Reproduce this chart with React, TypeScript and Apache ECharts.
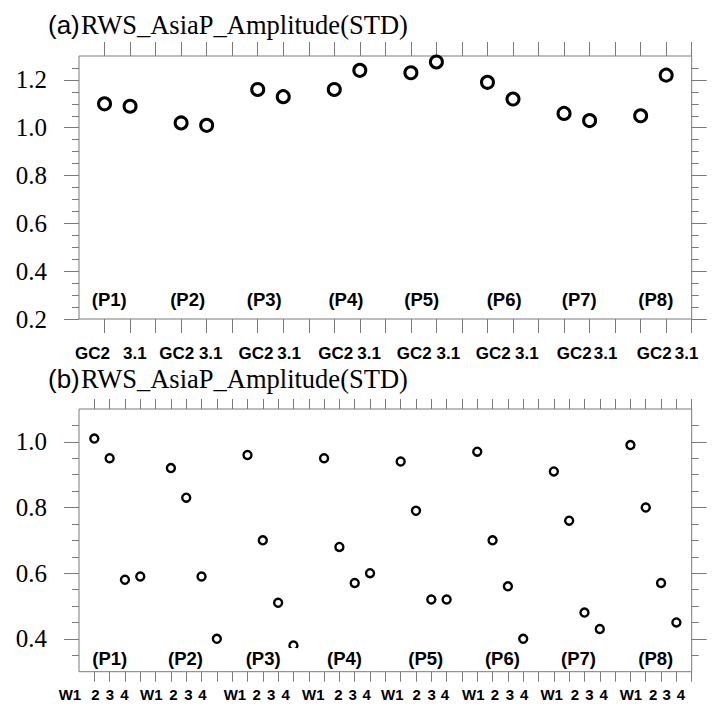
import React, { useEffect, useRef } from "react";
import * as echarts from "echarts";

// ---- data ----
const periods = ["P1", "P2", "P3", "P4", "P5", "P6", "P7", "P8"];
const modelLabels = ["GC2", "3.1"];
const gc2Amp = [1.10, 1.02, 1.16, 1.16, 1.23, 1.19, 1.06, 1.05];
const v31Amp = [1.09, 1.01, 1.13, 1.24, 1.275, 1.12, 1.03, 1.22];

const weekLabels = ["W1", "2", "3", "4"];
const w1Amp = [1.01, 0.92, 0.96, 0.95, 0.94, 0.97, 0.91, 0.99];
const w2Amp = [0.95, 0.83, 0.70, 0.68, 0.79, 0.70, 0.76, 0.80];
const w3Amp = [0.58, 0.59, 0.51, 0.57, 0.52, 0.56, 0.48, 0.57];
const w4Amp = [0.59, 0.40, 0.38, 0.60, 0.52, 0.40, 0.43, 0.45];

const panelTitles = ["(a)", "(b)"];
const titleText = "RWS_AsiaP_Amplitude(STD)";

// tick labels (axis units)
const topTickLabelAt = [
  [0.53, 2.19], [3.83, 5.16], [6.93, 8.23], [10.06, 11.36],
  [13.13, 14.47], [16.23, 17.54], [19.40, 20.63], [22.53, 23.80],
];
const bottomTickLabelAt = [
  [-0.59, 1.08, 2.02, 2.97], [4.72, 6.16, 7.14, 8.05],
  [10.18, 11.60, 12.54, 13.49], [15.30, 16.93, 17.87, 18.78],
  [20.45, 22.05, 23.03, 23.89], [25.74, 27.16, 28.14, 29.07],
  [30.86, 32.38, 33.32, 34.26], [36.03, 37.49, 38.37, 39.30],
];
const topPeriodLabelAt = [0.50, 3.57, 6.57, 9.77, 12.74, 15.97, 18.91, 21.91];
const bottomPeriodLabelAt = [0.87, 5.81, 10.88, 16.19, 21.50, 26.50, 31.47, 36.51];

const topY = { min: 0.2, max: 1.3, major: [0.2, 0.4, 0.6, 0.8, 1.0, 1.2], periodY: 0.283 };
const botY = { min: 0.3, max: 1.1, major: [0.4, 0.6, 0.8, 1.0], periodY: 0.339 };

const GRAY = "#7a7a7a";

function range(a: number, b: number, step: number) {
  const out: number[] = [];
  for (let v = a; v <= b + 1e-9; v += step) out.push(Math.round(v * 1000) / 1000);
  return out;
}

export default function App() {
  const ref = useRef<HTMLDivElement>(null);
  useEffect(() => {
    if (!ref.current) return;
    const chart = echarts.init(ref.current, null, { renderer: "svg" });

    const grids = [
      { left: 79, top: 56, width: 612.7, height: 263, show: true, borderColor: GRAY, borderWidth: 1,
        outerBoundsMode: "none", containLabel: false },
      { left: 79, top: 409, width: 612.7, height: 262.7, show: true, borderColor: GRAY, borderWidth: 1,
        outerBoundsMode: "none", containLabel: false },
    ];

    const xAxes: any[] = [];
    const yAxes: any[] = [];
    const xSpec = [
      { max: 24, len: 14 },
      { max: 40, len: 10 },
    ];
    const ySpec = [topY, botY];
    [0, 1].forEach((g) => {
      const ticks = range(1, xSpec[g].max, 1);
      ["bottom", "top"].forEach((pos) => {
        xAxes.push({
          type: "value", gridIndex: g, min: 0, max: xSpec[g].max, position: pos,
          axisLine: { show: false },
          axisTick: { show: true, length: xSpec[g].len, customValues: ticks, lineStyle: { color: GRAY } },
          axisLabel: { show: false }, splitLine: { show: false },
        });
      });
      const ys = ySpec[g];
      const minor = range(ys.min + 0.05, ys.max - 0.05, 0.05);
      ["left", "right"].forEach((pos) => {
        yAxes.push({
          type: "value", gridIndex: g, min: ys.min, max: ys.max, position: pos,
          axisLine: { show: false },
          axisTick: { show: true, length: 15, customValues: ys.major, lineStyle: { color: GRAY } },
          axisLabel: pos === "left"
            ? { show: true, customValues: ys.major, formatter: (v: number) => v.toFixed(1),
                fontFamily: "Liberation Serif", fontSize: 25, color: "#000", margin: 32 }
            : { show: false },
          splitLine: { show: false },
        });
        yAxes.push({
          type: "value", gridIndex: g, min: ys.min, max: ys.max, position: pos,
          axisLine: { show: false },
          axisTick: { show: true, length: 7, customValues: minor, lineStyle: { color: GRAY } },
          axisLabel: { show: false }, splitLine: { show: false },
        });
      });
    });

    const pointSeries = (g: number, data: number[][], size: number, bw: number) => ({
      type: "scatter", xAxisIndex: g * 2, yAxisIndex: g * 4, z: 2, silent: true,
      symbol: "circle", symbolSize: size, data,
      itemStyle: { color: "rgba(0,0,0,0)", borderColor: "#000", borderWidth: bw, opacity: 1 },
    });

    const textSeries = (g: number, data: any[], label: any, z = 4) => ({
      type: "scatter", xAxisIndex: g * 2, yAxisIndex: g * 4, z, silent: true, clip: false,
      symbolSize: 1, itemStyle: { color: "rgba(0,0,0,0)", opacity: 1 }, data,
      label: { show: true, position: "inside", formatter: (p: any) => p.data.name, ...label },
    });

    const topPts: number[][] = [];
    periods.forEach((_, i) => {
      topPts.push([3 * i + 1, gc2Amp[i]]);
      topPts.push([3 * i + 2, v31Amp[i]]);
    });
    const botPts: number[][] = [];
    const weeks = [w1Amp, w2Amp, w3Amp, w4Amp];
    periods.forEach((_, i) => {
      weeks.forEach((arr, w) => botPts.push([5 * i + w + 1, arr[i]]));
    });

    const topTickData: any[] = [];
    topTickLabelAt.forEach((pair) =>
      pair.forEach((x, m) => topTickData.push({ name: modelLabels[m], value: [x, topY.min] })));
    const botTickData: any[] = [];
    bottomTickLabelAt.forEach((grp) =>
      grp.forEach((x, w) => botTickData.push({ name: weekLabels[w], value: [x, botY.min] })));

    const periodLabel = {
      fontFamily: "Liberation Sans", fontWeight: "bold", fontSize: 18.5, color: "#000",
      align: "left", verticalAlign: "middle", lineHeight: 18,
      backgroundColor: "#fff", padding: [4, 17, 0, 0],
    };

    const titleY = [25, 379];
    const graphic: any[] = [];
    panelTitles.forEach((t, i) => {
      graphic.push({
        type: "text", left: 48, top: titleY[i] - 15,
        style: { text: t, font: "26px 'Liberation Sans'", fill: "#000", lineHeight: 30 },
      });
      graphic.push({
        type: "text", left: 81, top: titleY[i] - 15,
        style: { text: titleText, font: "26.5px 'Liberation Serif'", fill: "#000", lineHeight: 30 },
      });
    });

    chart.setOption({
      animation: false,
      backgroundColor: "#fff",
      graphic,
      grid: grids,
      xAxis: xAxes,
      yAxis: yAxes,
      series: [
        pointSeries(0, topPts, 12, 3),
        pointSeries(1, botPts, 8, 2.4),
        textSeries(0, periods.map((p, i) => ({ name: `(${p})`, value: [topPeriodLabelAt[i], topY.periodY] })), periodLabel),
        textSeries(1, periods.map((p, i) => ({ name: `(${p})`, value: [bottomPeriodLabelAt[i], botY.periodY] })), periodLabel),
        textSeries(0, topTickData, {
          fontFamily: "Liberation Sans", fontWeight: "bold", fontSize: 17, color: "#000",
          align: "center", verticalAlign: "middle", offset: [0, 34],
        }),
        textSeries(1, botTickData, {
          fontFamily: "Liberation Sans", fontWeight: "bold", fontSize: 15, color: "#000",
          align: "center", verticalAlign: "middle", offset: [0, 23],
        }),
      ],
    });
    return () => chart.dispose();
  }, []);
  return <div ref={ref} style={{ position: "fixed", left: 0, top: 0, width: 721, height: 718 }} />;
}
